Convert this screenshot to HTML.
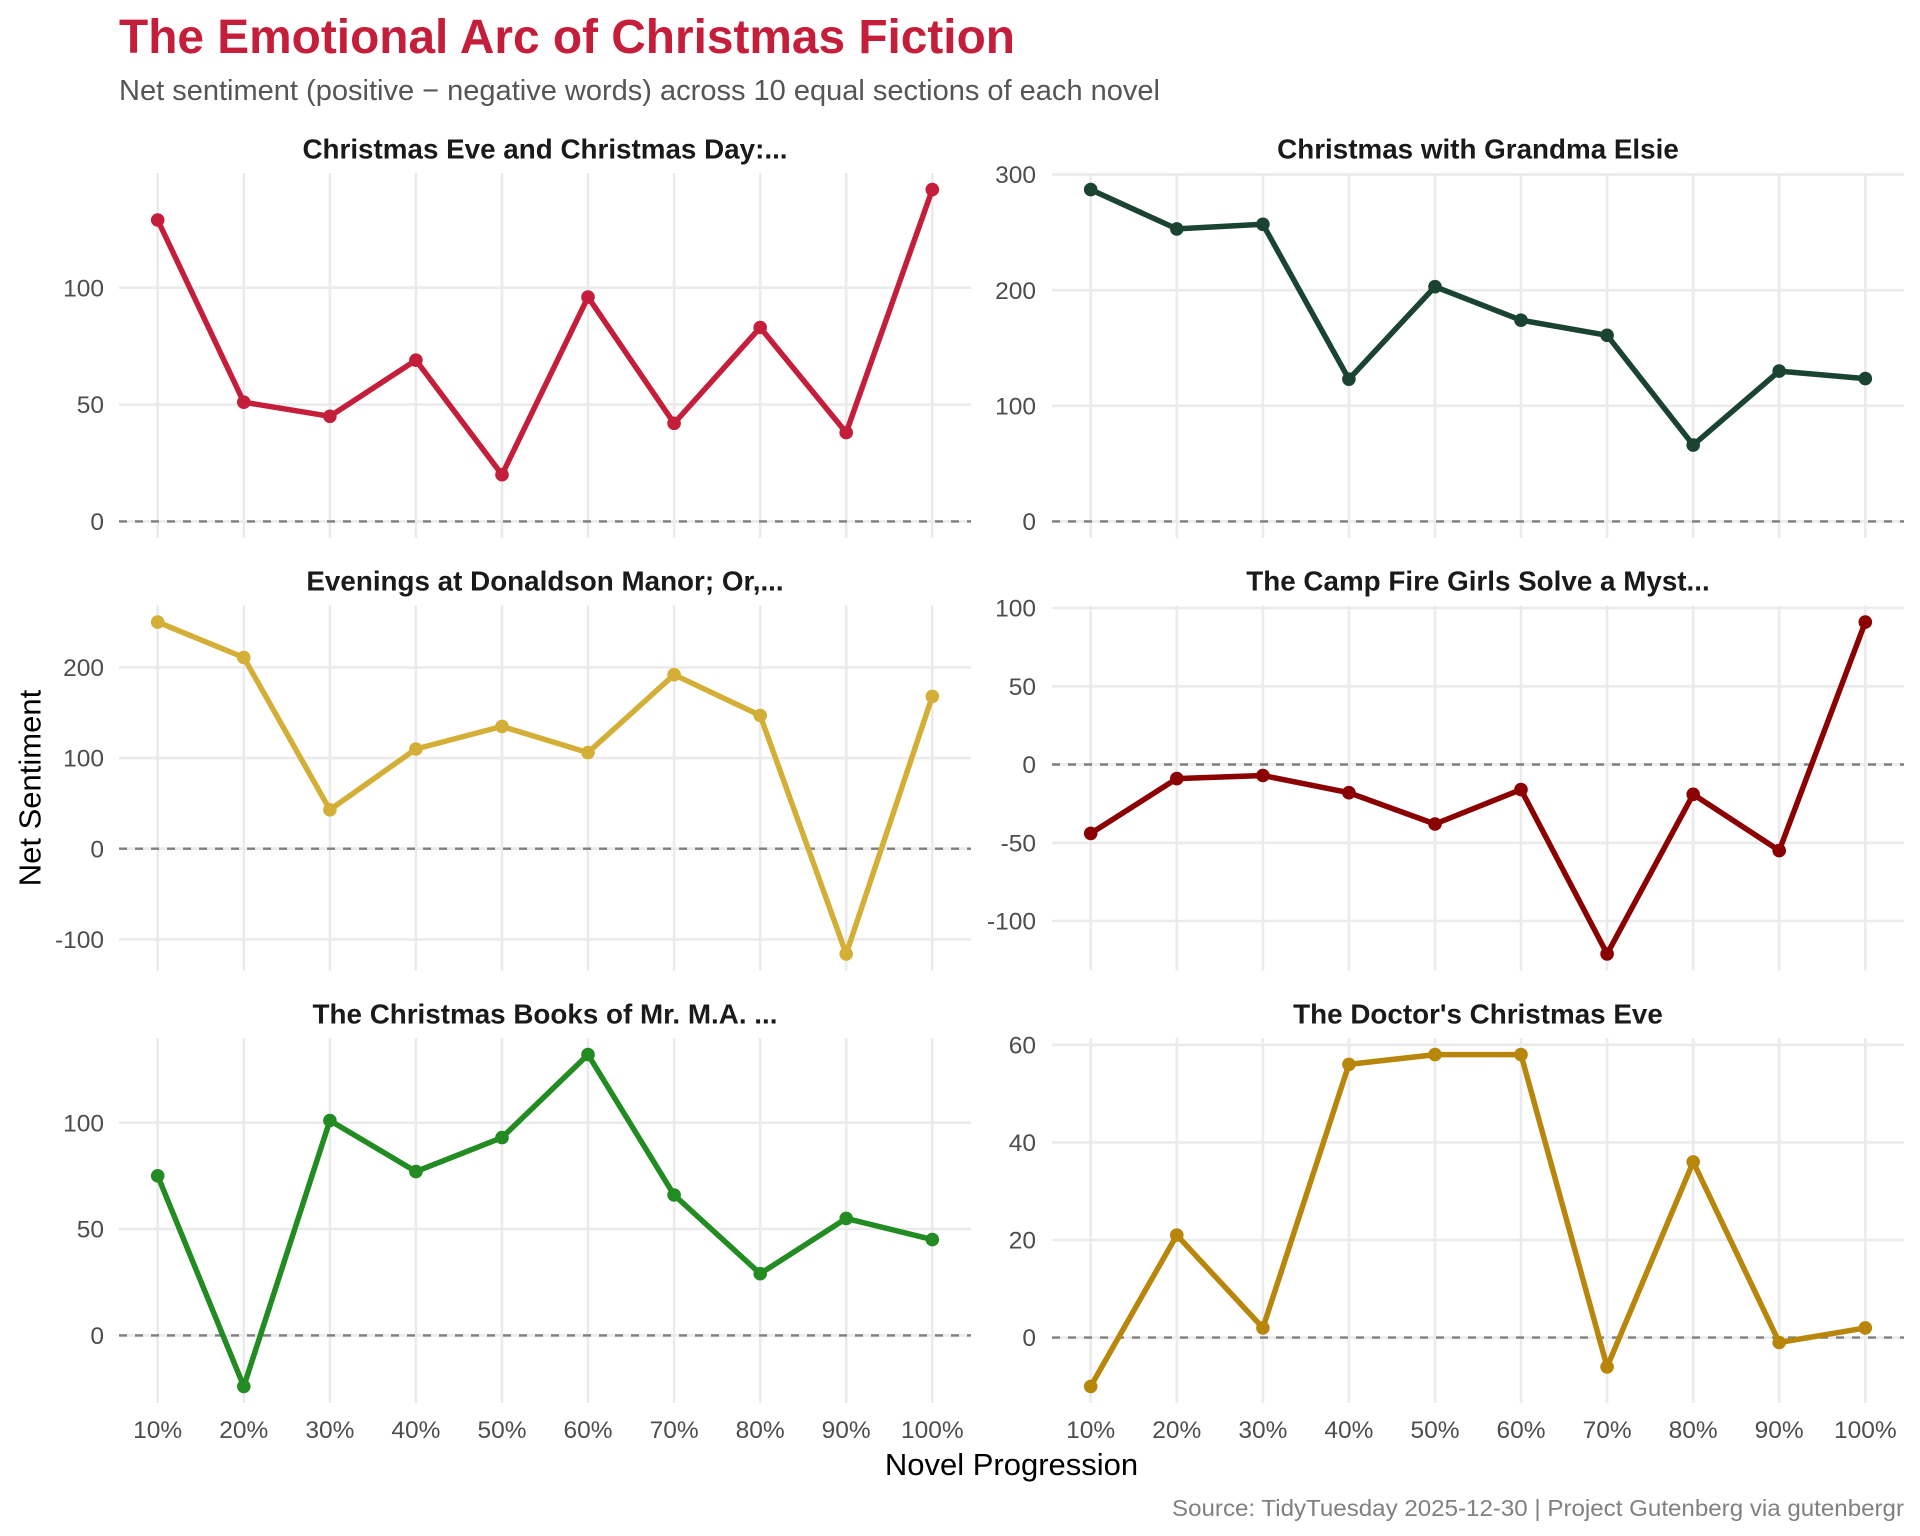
<!DOCTYPE html>
<html><head><meta charset="utf-8"><style>
html,body{margin:0;padding:0;background:#fff;}
svg{display:block;}
text{font-family:"Liberation Sans",Arial,sans-serif;}
</style></head><body>
<svg width="1920" height="1536" viewBox="0 0 1920 1536" xmlns="http://www.w3.org/2000/svg">
<rect width="1920" height="1536" fill="#fff"/>
<text x="119" y="53" font-size="48" font-weight="bold" fill="#C41E3A" textLength="896" lengthAdjust="spacingAndGlyphs">The Emotional Arc of Christmas Fiction</text>
<text x="119" y="100" font-size="29" fill="#555555" textLength="1041" lengthAdjust="spacingAndGlyphs">Net sentiment (positive − negative words) across 10 equal sections of each novel</text>

<g stroke="#EBEBEB" stroke-width="2.6" fill="none">
<path d="M157.7 173V538M243.8 173V538M329.9 173V538M415.9 173V538M502 173V538M588 173V538M674.1 173V538M760.2 173V538M846.2 173V538M932.3 173V538"/>
<path d="M1090.7 173V538M1176.8 173V538M1262.9 173V538M1348.9 173V538M1435 173V538M1521 173V538M1607.1 173V538M1693.2 173V538M1779.2 173V538M1865.3 173V538"/>
<path d="M157.7 605.5V970.5M243.8 605.5V970.5M329.9 605.5V970.5M415.9 605.5V970.5M502 605.5V970.5M588 605.5V970.5M674.1 605.5V970.5M760.2 605.5V970.5M846.2 605.5V970.5M932.3 605.5V970.5"/>
<path d="M1090.7 605.5V970.5M1176.8 605.5V970.5M1262.9 605.5V970.5M1348.9 605.5V970.5M1435 605.5V970.5M1521 605.5V970.5M1607.1 605.5V970.5M1693.2 605.5V970.5M1779.2 605.5V970.5M1865.3 605.5V970.5"/>
<path d="M157.7 1038V1403M243.8 1038V1403M329.9 1038V1403M415.9 1038V1403M502 1038V1403M588 1038V1403M674.1 1038V1403M760.2 1038V1403M846.2 1038V1403M932.3 1038V1403"/>
<path d="M1090.7 1038V1403M1176.8 1038V1403M1262.9 1038V1403M1348.9 1038V1403M1435 1038V1403M1521 1038V1403M1607.1 1038V1403M1693.2 1038V1403M1779.2 1038V1403M1865.3 1038V1403"/>
<path d="M119 521.4H971M119 404.6H971M119 287.7H971"/>
<path d="M1052 521.4H1904M1052 405.8H1904M1052 290.2H1904M1052 174.6H1904"/>
<path d="M119 667.4H971M119 758.1H971M119 848.7H971M119 939.4H971"/>
<path d="M1052 608H1904M1052 686.3H1904M1052 764.5H1904M1052 842.8H1904M1052 921H1904"/>
<path d="M119 1122.7H971M119 1229H971M119 1335.4H971"/>
<path d="M1052 1044.8H1904M1052 1142.4H1904M1052 1240H1904M1052 1337.6H1904"/>
</g>

<g stroke="#7F7F7F" stroke-width="2.4" stroke-dasharray="8 8" fill="none">
<path d="M119 521.4H971"/>
<path d="M1052 521.4H1904"/>
<path d="M119 848.7H971"/>
<path d="M1052 764.5H1904"/>
<path d="M119 1335.4H971"/>
<path d="M1052 1337.6H1904"/>
</g>

<g font-size="24.5" fill="#4D4D4D" text-anchor="end">
<text x="104" y="530">0</text>
<text x="104" y="413.2">50</text>
<text x="104" y="296.3">100</text>
<text x="1036" y="530">0</text>
<text x="1036" y="414.4">100</text>
<text x="1036" y="298.8">200</text>
<text x="1036" y="183.2">300</text>
<text x="104" y="676">200</text>
<text x="104" y="766.7">100</text>
<text x="104" y="857.3">0</text>
<text x="104" y="948">-100</text>
<text x="1036" y="616.6">100</text>
<text x="1036" y="694.9">50</text>
<text x="1036" y="773.1">0</text>
<text x="1036" y="851.4">-50</text>
<text x="1036" y="929.6">-100</text>
<text x="104" y="1131.3">100</text>
<text x="104" y="1237.6">50</text>
<text x="104" y="1344">0</text>
<text x="1036" y="1053.4">60</text>
<text x="1036" y="1151">40</text>
<text x="1036" y="1248.6">20</text>
<text x="1036" y="1346.2">0</text>
</g>

<g font-size="24.5" fill="#4D4D4D" text-anchor="middle">
<text x="157.7" y="1438">10%</text><text x="243.8" y="1438">20%</text><text x="329.9" y="1438">30%</text><text x="415.9" y="1438">40%</text><text x="502" y="1438">50%</text><text x="588" y="1438">60%</text><text x="674.1" y="1438">70%</text><text x="760.2" y="1438">80%</text><text x="846.2" y="1438">90%</text><text x="932.3" y="1438">100%</text>
<text x="1090.7" y="1438">10%</text><text x="1176.8" y="1438">20%</text><text x="1262.9" y="1438">30%</text><text x="1348.9" y="1438">40%</text><text x="1435" y="1438">50%</text><text x="1521" y="1438">60%</text><text x="1607.1" y="1438">70%</text><text x="1693.2" y="1438">80%</text><text x="1779.2" y="1438">90%</text><text x="1865.3" y="1438">100%</text>
</g>

<g font-size="27.8" font-weight="bold" fill="#1A1A1A" text-anchor="middle">
<text x="545" y="158.3">Christmas Eve and Christmas Day:...</text>
<text x="1478" y="158.3">Christmas with Grandma Elsie</text>
<text x="545" y="590.7">Evenings at Donaldson Manor; Or,...</text>
<text x="1478" y="590.7">The Camp Fire Girls Solve a Myst...</text>
<text x="545" y="1023.3">The Christmas Books of Mr. M.A. ...</text>
<text x="1478" y="1023.3">The Doctor's Christmas Eve</text>
</g>

<g fill="none" stroke-width="5.5" stroke-linejoin="round" stroke-linecap="round">
<polyline stroke="#C41E3A" points="157.7,220 243.8,402.2 329.9,416.3 415.9,360.2 502,474.7 588,297.1 674.1,423.3 760.2,327.5 846.2,432.6 932.3,189.6"/>
<polyline stroke="#1B4332" points="1090.7,189.6 1176.8,228.9 1262.9,224.3 1348.9,379.2 1435,286.7 1521,320.2 1607.1,335.3 1693.2,445.1 1779.2,371.1 1865.3,378.6"/>
<polyline stroke="#D4AF37" points="157.7,622.1 243.8,657.5 329.9,809.8 415.9,749 502,726.4 588,752.6 674.1,674.7 760.2,715.5 846.2,953.9 932.3,696.4"/>
<polyline stroke="#8B0000" points="1090.7,833.4 1176.8,778.6 1262.9,775.5 1348.9,792.7 1435,824 1521,789.6 1607.1,953.9 1693.2,794.3 1779.2,850.6 1865.3,622.1"/>
<polyline stroke="#228B22" points="157.7,1175.8 243.8,1386.4 329.9,1120.5 415.9,1171.6 502,1137.6 588,1054.6 674.1,1195 760.2,1273.7 846.2,1218.4 932.3,1239.6"/>
<polyline stroke="#B8860B" points="1090.7,1386.4 1176.8,1235.1 1262.9,1327.9 1348.9,1064.4 1435,1054.6 1521,1054.6 1607.1,1366.9 1693.2,1161.9 1779.2,1342.5 1865.3,1327.9"/>
</g>
<g fill="#C41E3A">
<circle cx="157.7" cy="220" r="6.8"/><circle cx="243.8" cy="402.2" r="6.8"/><circle cx="329.9" cy="416.3" r="6.8"/><circle cx="415.9" cy="360.2" r="6.8"/><circle cx="502" cy="474.7" r="6.8"/><circle cx="588" cy="297.1" r="6.8"/><circle cx="674.1" cy="423.3" r="6.8"/><circle cx="760.2" cy="327.5" r="6.8"/><circle cx="846.2" cy="432.6" r="6.8"/><circle cx="932.3" cy="189.6" r="6.8"/>
</g>
<g fill="#1B4332">
<circle cx="1090.7" cy="189.6" r="6.8"/><circle cx="1176.8" cy="228.9" r="6.8"/><circle cx="1262.9" cy="224.3" r="6.8"/><circle cx="1348.9" cy="379.2" r="6.8"/><circle cx="1435" cy="286.7" r="6.8"/><circle cx="1521" cy="320.2" r="6.8"/><circle cx="1607.1" cy="335.3" r="6.8"/><circle cx="1693.2" cy="445.1" r="6.8"/><circle cx="1779.2" cy="371.1" r="6.8"/><circle cx="1865.3" cy="378.6" r="6.8"/>
</g>
<g fill="#D4AF37">
<circle cx="157.7" cy="622.1" r="6.8"/><circle cx="243.8" cy="657.5" r="6.8"/><circle cx="329.9" cy="809.8" r="6.8"/><circle cx="415.9" cy="749" r="6.8"/><circle cx="502" cy="726.4" r="6.8"/><circle cx="588" cy="752.6" r="6.8"/><circle cx="674.1" cy="674.7" r="6.8"/><circle cx="760.2" cy="715.5" r="6.8"/><circle cx="846.2" cy="953.9" r="6.8"/><circle cx="932.3" cy="696.4" r="6.8"/>
</g>
<g fill="#8B0000">
<circle cx="1090.7" cy="833.4" r="6.8"/><circle cx="1176.8" cy="778.6" r="6.8"/><circle cx="1262.9" cy="775.5" r="6.8"/><circle cx="1348.9" cy="792.7" r="6.8"/><circle cx="1435" cy="824" r="6.8"/><circle cx="1521" cy="789.6" r="6.8"/><circle cx="1607.1" cy="953.9" r="6.8"/><circle cx="1693.2" cy="794.3" r="6.8"/><circle cx="1779.2" cy="850.6" r="6.8"/><circle cx="1865.3" cy="622.1" r="6.8"/>
</g>
<g fill="#228B22">
<circle cx="157.7" cy="1175.8" r="6.8"/><circle cx="243.8" cy="1386.4" r="6.8"/><circle cx="329.9" cy="1120.5" r="6.8"/><circle cx="415.9" cy="1171.6" r="6.8"/><circle cx="502" cy="1137.6" r="6.8"/><circle cx="588" cy="1054.6" r="6.8"/><circle cx="674.1" cy="1195" r="6.8"/><circle cx="760.2" cy="1273.7" r="6.8"/><circle cx="846.2" cy="1218.4" r="6.8"/><circle cx="932.3" cy="1239.6" r="6.8"/>
</g>
<g fill="#B8860B">
<circle cx="1090.7" cy="1386.4" r="6.8"/><circle cx="1176.8" cy="1235.1" r="6.8"/><circle cx="1262.9" cy="1327.9" r="6.8"/><circle cx="1348.9" cy="1064.4" r="6.8"/><circle cx="1435" cy="1054.6" r="6.8"/><circle cx="1521" cy="1054.6" r="6.8"/><circle cx="1607.1" cy="1366.9" r="6.8"/><circle cx="1693.2" cy="1161.9" r="6.8"/><circle cx="1779.2" cy="1342.5" r="6.8"/><circle cx="1865.3" cy="1327.9" r="6.8"/>
</g>

<text x="1011.5" y="1475" font-size="31" fill="#000" text-anchor="middle">Novel Progression</text>
<text transform="translate(40.5,788) rotate(-90)" x="0" y="0" font-size="31" fill="#000" text-anchor="middle">Net Sentiment</text>

<text x="1904" y="1516" font-size="23.5" fill="#808080" text-anchor="end" textLength="732" lengthAdjust="spacingAndGlyphs">Source: TidyTuesday 2025-12-30 | Project Gutenberg via gutenbergr</text>
</svg>
</body></html>
